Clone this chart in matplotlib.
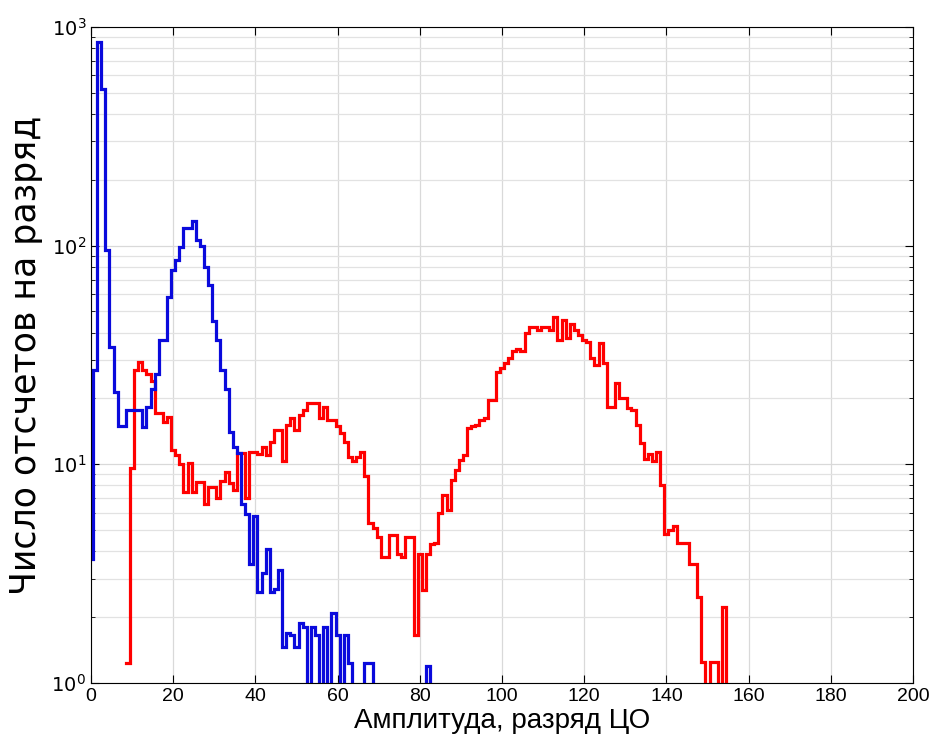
import numpy as np
import matplotlib
matplotlib.use("Agg")
import matplotlib.pyplot as plt
from matplotlib.ticker import LogLocator, NullFormatter, FixedLocator

plt.rcParams['font.family'] = ['Liberation Sans', 'DejaVu Sans']

# counts per amplitude bin (bin centres at integer amplitudes, 0 = empty bin)
blue_start = 0
blue_counts = [
    3.7, 27, 850, 520, 96, 34.5, 21.5, 14.9, 14.9, 17.7,
    17.7, 17.7, 17.7, 14.8, 18.3, 22, 26, 37, 37, 58,
    77, 86, 99, 120, 120, 130, 106, 100, 80, 66,
    45, 37, 27, 22, 14, 12, 11.3, 6.6, 5.9, 3.5,
    5.8, 2.6, 3.2, 4.1, 2.6, 2.7, 3.3, 1.46, 1.7, 1.66,
    1.46, 1.88, 1.8, 0, 1.8, 1.66, 0, 1.8, 0, 2.09,
    1.66, 0, 1.66, 1.23, 0, 0, 0, 1.23, 1.23, 0,
    0, 0, 0, 0, 0, 0, 0, 0, 0, 0,
    0, 0, 1.2, 0,
]

red_start = 9
red_counts = [
    1.23, 9.6, 27, 29.5, 27, 26, 24, 17.2, 17.2, 15.6,
    16.5, 11.6, 11, 10, 7.5, 10.1, 7.5, 8.3, 8.3, 6.6,
    7.9, 7.9, 7.0, 8.4, 9.26, 8.2, 7.6, 11.3, 11.3, 7.0,
    11.4, 11.4, 11.2, 12, 11, 12.7, 14.3, 14.3, 10.3, 15.1,
    16.3, 14.3, 16.8, 17.7, 19, 19, 19, 16.3, 18.3, 16,
    16, 14.9, 13.9, 12.7, 10.8, 10.3, 10.8, 11.4, 8.8, 5.4,
    5.1, 4.67, 3.78, 3.78, 4.75, 4.75, 3.9, 3.78, 4.67, 4.67,
    1.66, 3.9, 2.66, 3.9, 4.3, 4.36, 6.0, 7.2, 6.2, 8.5,
    9.4, 10.5, 11, 14.6, 15, 15.1, 16, 16.2, 19.7, 19.7,
    26.5, 27.5, 29, 30.5, 33, 33.8, 33, 40, 42.6, 42.6,
    41, 42.6, 42.6, 41, 47.3, 37, 45.7, 38, 44, 41,
    39, 37, 36.3, 30.5, 28.4, 35.8, 29, 18.3, 18.3, 23.5,
    20, 20, 18, 17.7, 15.1, 12.5, 10.6, 11.2, 10.3, 11.4,
    8.0, 4.8, 5.0, 5.2, 4.35, 4.35, 4.35, 3.5, 3.5, 2.48,
    1.25, 0, 1.25, 1.25, 0, 2.23, 0,
]

xticks = [0, 20, 40, 60, 80, 100, 120, 140, 160, 180, 200]
yticks = [1, 10, 100, 1000]
xlabel = 'Амплитуда, разряд ЦО'
ylabel = 'Число отсчетов на разряд'


def stairs(start, counts):
    c = np.array(counts, dtype=float)
    c = np.where(c > 0, c, 0.05)  # empty bins drop below the axis
    edges = np.arange(len(c) + 1) + start - 0.5
    return edges, np.append(c, c[-1])


fig = plt.figure(figsize=(9.37, 7.43), dpi=100)
ax = fig.add_axes([0.0971, 0.0808, 0.8773, 0.8829])

for start, counts, col in [(red_start, red_counts, '#ff0000'),
                           (blue_start, blue_counts, '#0a0adc')]:
    ex, ey = stairs(start, counts)
    ax.step(ex, ey, where='post', color=col, lw=2.3, solid_joinstyle='miter')

ax.set_yscale('log')
ax.set_xlim(0, 200)
ax.set_ylim(1, 1000)
ax.xaxis.set_major_locator(FixedLocator(xticks))
ax.yaxis.set_major_locator(FixedLocator(yticks))
ax.yaxis.set_minor_locator(LogLocator(base=10, subs=np.arange(2, 10)))
ax.yaxis.set_minor_formatter(NullFormatter())
ax.set_yticklabels([r'$10^{%d}$' % int(np.log10(v)) for v in yticks])

ax.grid(True, which='major', color='#d9d9d9', lw=0.9, ls='-')
ax.grid(True, which='minor', axis='y', color='#e2e2e2', lw=0.9, ls='-')
ax.set_axisbelow(True)
ax.tick_params(which='both', direction='in', top=True, right=True,
               labelsize=14, colors='black')
ax.tick_params(which='major', length=6)
ax.tick_params(which='minor', length=3)
for s in ax.spines.values():
    s.set_linewidth(0.8)

ax.set_xlabel(xlabel, fontsize=20, labelpad=2)
ax.set_ylabel(ylabel, fontsize=25, labelpad=6, family=['DejaVu Sans'])

fig.savefig('out.png', dpi=100)
